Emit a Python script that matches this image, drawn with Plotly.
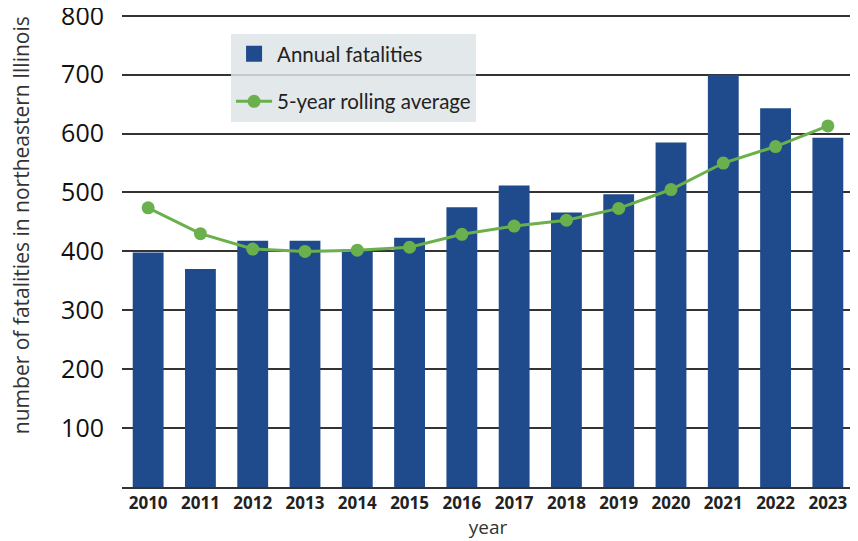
import plotly.graph_objects as go

years = ["2010", "2011", "2012", "2013", "2014", "2015", "2016",
         "2017", "2018", "2019", "2020", "2021", "2022", "2023"]
annual = [398, 370, 418, 418, 403, 423, 475, 512, 466, 497, 585, 700, 643, 593]
rolling = [474, 430, 404, 400, 402, 407, 429, 443, 453, 473, 505, 550, 578, 613]
y_ticks = [100, 200, 300, 400, 500, 600, 700, 800]

BLUE = "#1f4a8c"
GREEN = "#6ab04c"

fig = go.Figure()
fig.add_trace(go.Bar(
    x=years, y=annual, name="Annual fatalities",
    marker=dict(color=BLUE, line=dict(width=0)),
    showlegend=False,
))
# legend swatch for the bars (square like the reference)
fig.add_trace(go.Scatter(
    x=[None], y=[None], name="Annual fatalities", mode="markers",
    marker=dict(color=BLUE, size=24, symbol="square"),
    legendgroup="a",
))
fig.add_trace(go.Scatter(
    x=years, y=rolling, name="5-year rolling average",
    mode="lines+markers",
    line=dict(color=GREEN, width=3),
    marker=dict(color=GREEN, size=13),
    legendgroup="b",
))

fig.update_layout(
    width=858, height=541,
    margin=dict(l=114, r=12, t=6, b=62, autoexpand=False),
    plot_bgcolor="white", paper_bgcolor="white",
    bargap=0.41,
    showlegend=True,
    legend=dict(
        x=0.149, y=0.958, xanchor="left", yanchor="top",
        bgcolor="rgba(222,228,232,0.85)",
        font=dict(family="Lato", size=20.5, color="#222"),
        tracegroupgap=18,
        itemwidth=36,
    ),
    xaxis=dict(
        type="category",
        range=[-0.5, 13.5],
        automargin=False,
        tickfont=dict(family="Open Sans", size=17, color="#222", weight="bold"),
        showgrid=False,
        showline=True, linecolor="#333", linewidth=2,
        ticks="",
        title=dict(text="year", font=dict(family="Open Sans", size=19, color="#333"), standoff=3),
    ),
    yaxis=dict(
        range=[0, 803],
        automargin=False,
        tickvals=y_ticks,
        tickfont=dict(family="Open Sans", size=25, color="#111"),
        ticklabelstandoff=17,
        ticklabeloverflow="allow",
        showgrid=True, gridcolor="#333", gridwidth=1.8,
        ticks="",
        zeroline=False,
        showline=False,
        layer="below traces",
    ),
    annotations=[dict(
        text="number of fatalities in northeastern Illinois",
        xref="paper", yref="paper", x=-0.137, y=0.553,
        xanchor="center", yanchor="middle",
        textangle=-90, showarrow=False,
        font=dict(family="Open Sans", size=21, color="#333"),
    )],
)

fig.write_html("out.html")
